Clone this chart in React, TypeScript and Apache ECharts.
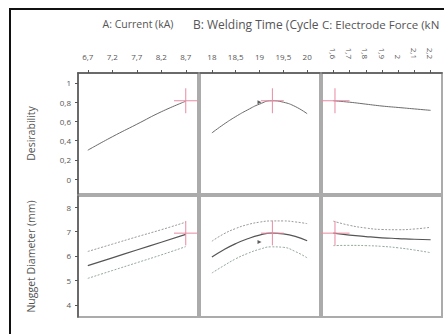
import React, { useEffect, useRef } from 'react';
import * as echarts from 'echarts';

// Factor A: Current (kA)
const currentX = [6.7, 7.2, 7.7, 8.2, 8.7];
const currentDesirability = [0.3, 0.44, 0.57, 0.7, 0.81];
const currentNugget = [5.6, 5.92, 6.24, 6.56, 6.88];
const currentNuggetUpper = [6.18, 6.48, 6.78, 7.07, 7.38];
const currentNuggetLower = [5.08, 5.4, 5.72, 6.04, 6.38];

// Factor B: Welding Time (Cycles)
const timeX = [18, 18.25, 18.5, 18.75, 19, 19.25, 19.5, 19.75, 20];
const timeDesirability = [0.48, 0.57, 0.65, 0.72, 0.78, 0.815, 0.8, 0.755, 0.68];
const timeNugget = [5.95, 6.25, 6.5, 6.7, 6.85, 6.93, 6.9, 6.8, 6.62];
const timeNuggetUpper = [6.6, 6.9, 7.12, 7.28, 7.38, 7.43, 7.43, 7.39, 7.32];
const timeNuggetLower = [5.3, 5.6, 5.88, 6.1, 6.27, 6.37, 6.35, 6.18, 5.92];

// Factor C: Electrode Force (kN)
const forceX = [1.6, 1.7, 1.8, 1.9, 2.0, 2.1, 2.2];
const forceDesirability = [0.815, 0.8, 0.78, 0.76, 0.745, 0.73, 0.715];
const forceNugget = [6.93, 6.85, 6.79, 6.74, 6.71, 6.68, 6.66];
const forceNuggetUpper = [7.42, 7.25, 7.14, 7.08, 7.07, 7.1, 7.17];
const forceNuggetLower = [6.42, 6.43, 6.42, 6.39, 6.33, 6.24, 6.13];

// Current settings and predictions
const factorSettings = [8.7, 19.27, 1.61];
const predictedDesirability = 0.815;
const predictedNugget = 6.93;

// Small markers seen in the Welding Time panels
const timeMarkerX = 19.0;
const timeMarkerDesirability = 0.8;
const timeMarkerNugget = 6.57;

// Tick labels
const currentTicks = [6.7, 7.2, 7.7, 8.2, 8.7];
const timeTicks = [18, 18.5, 19, 19.5, 20];
const forceTicks = [1.6, 1.7, 1.8, 1.9, 2, 2.1, 2.2];
const desirabilityTicks = [0, 0.2, 0.4, 0.6, 0.8, 1];
const nuggetTicks = [4, 5, 6, 7, 8];

const factorTitles = ['A: Current (kA)', 'B: Welding Time (Cycles)', 'C: Electrode Force (kN)'];
const responseNames = ['Desirability', 'Nugget Diameter (mm)'];

const FONT = '"Open Sans", "Noto Sans", sans-serif';
const TXT = '#555';
const fmt = (v: number) => String(v).replace('.', ',');

export default function App() {
  const ref = useRef<HTMLDivElement>(null);
  useEffect(() => {
    if (!ref.current) return;
    const chart = echarts.init(ref.current, undefined, { renderer: 'svg' });

    const colLeft = [78, 200, 322];
    const rowTop = [73, 196];
    const W = 120;
    const H = 121;
    const xRanges = [
      [6.5, 8.95],
      [17.75, 20.27],
      [1.53, 2.27],
    ];
    const yRanges = [
      [-0.156, 1.104],
      [3.5, 8.45],
    ];
    const xTicks = [currentTicks, timeTicks, forceTicks];
    const yTicks = [desirabilityTicks, nuggetTicks];

    const grids: any[] = [];
    const xAxes: any[] = [];
    const yAxes: any[] = [];
    for (let r = 0; r < 2; r++) {
      for (let c = 0; c < 3; c++) {
        const g = r * 3 + c;
        grids.push({
          left: colLeft[c],
          top: rowTop[r],
          width: W,
          height: H,
          show: true,
          borderColor: '#ababab',
          borderWidth: 2,
          backgroundColor: '#fff',
        });
        xAxes.push({
          type: 'value',
          gridIndex: g,
          position: 'top',
          min: xRanges[c][0],
          max: xRanges[c][1],
          axisLine: { show: r === 0, onZero: false, lineStyle: { color: '#555', width: 1.5 } },
          axisTick: { show: r === 0, customValues: xTicks[c], length: 3, lineStyle: { color: '#555' } },
          axisLabel: {
            show: r === 0,
            customValues: xTicks[c],
            formatter: fmt,
            fontSize: 8,
            color: TXT,
            fontFamily: FONT,
            margin: c === 2 ? 14 : 13,
            rotate: c === 2 ? 90 : 0,
          },
          splitLine: { show: false },
        });
        yAxes.push({
          type: 'value',
          gridIndex: g,
          min: yRanges[r][0],
          max: yRanges[r][1],
          name: c === 0 ? responseNames[r] : '',
          nameLocation: 'middle',
          nameGap: 42,
          nameTextStyle: { fontSize: 10.5, color: TXT, fontFamily: FONT },
          axisLine: { show: c === 0, onZero: false, lineStyle: { color: '#555', width: 1.5 } },
          axisTick: { show: c === 0, customValues: yTicks[r], length: 3, lineStyle: { color: '#555' } },
          axisLabel: {
            show: c === 0,
            customValues: yTicks[r],
            formatter: fmt,
            fontSize: 8,
            color: TXT,
            fontFamily: FONT,
            margin: 7,
          },
          splitLine: { show: false },
        });
      }
    }

    const series: any[] = [];
    const addLine = (g: number, xs: number[], ys: number[], color: string, width: number, type: any = 'solid') => {
      series.push({
        type: 'line',
        xAxisIndex: g,
        yAxisIndex: g,
        data: xs.map((x, i) => [x, ys[i]]),
        symbol: 'none',
        smooth: true,
        clip: true,
        silent: true,
        lineStyle: { color, width, type },
      });
    };
    const addSeg = (g: number, pts: number[][]) => {
      series.push({
        type: 'line',
        xAxisIndex: g,
        yAxisIndex: g,
        data: pts,
        symbol: 'none',
        clip: true,
        silent: true,
        lineStyle: { color: '#e88aa0', width: 1 },
      });
    };

    const xsAll = [currentX, timeX, forceX];
    const desAll = [currentDesirability, timeDesirability, forceDesirability];
    const nugAll = [currentNugget, timeNugget, forceNugget];
    const upAll = [currentNuggetUpper, timeNuggetUpper, forceNuggetUpper];
    const loAll = [currentNuggetLower, timeNuggetLower, forceNuggetLower];
    const dxs = [0.24, 0.24, 0.09];

    for (let c = 0; c < 3; c++) {
      addLine(c, xsAll[c], desAll[c], '#6a6a6a', 1);
      addLine(3 + c, xsAll[c], upAll[c], '#9a9a9a', 1, [2, 1.5]);
      addLine(3 + c, xsAll[c], loAll[c], '#95a89b', 1, [2, 1.5]);
      addLine(3 + c, xsAll[c], nugAll[c], '#555', 1.2);
      const s = factorSettings[c];
      addSeg(c, [[s - dxs[c], predictedDesirability], [s + dxs[c], predictedDesirability]]);
      addSeg(c, [[s, predictedDesirability - 0.13], [s, predictedDesirability + 0.13]]);
      addSeg(3 + c, [[s - dxs[c], predictedNugget], [s + dxs[c], predictedNugget]]);
      addSeg(3 + c, [[s, predictedNugget - 0.5], [s, predictedNugget + 0.5]]);
    }
    series.push({
      type: 'scatter',
      xAxisIndex: 1,
      yAxisIndex: 1,
      data: [[timeMarkerX, timeMarkerDesirability]],
      symbol: 'triangle',
      symbolRotate: -90,
      symbolSize: 4,
      itemStyle: { color: '#333' },
      silent: true,
    });
    series.push({
      type: 'scatter',
      xAxisIndex: 4,
      yAxisIndex: 4,
      data: [[timeMarkerX, timeMarkerNugget]],
      symbol: 'triangle',
      symbolRotate: -90,
      symbolSize: 4,
      itemStyle: { color: '#333' },
      silent: true,
    });

    const graphic: any[] = [
      {
        type: 'rect',
        shape: { x: 10, y: 9, width: 600, height: 500 },
        style: { fill: 'none', stroke: '#111', lineWidth: 2 },
        silent: true,
      },
      {
        type: 'text',
        x: 138,
        y: 24,
        style: { text: factorTitles[0], fill: TXT, fontSize: 10.5, fontFamily: FONT, align: 'center', verticalAlign: 'middle' },
      },
      {
        type: 'text',
        x: 193,
        y: 24,
        style: {
          text: factorTitles[1],
          fill: TXT,
          fontSize: 12,
          fontFamily: FONT,
          align: 'left',
          verticalAlign: 'middle',
          width: 128,
          overflow: 'truncate',
          ellipsis: '',
        },
      },
      {
        type: 'text',
        x: 322,
        y: 24,
        style: {
          text: factorTitles[2],
          fill: TXT,
          fontSize: 11.5,
          fontFamily: FONT,
          align: 'left',
          verticalAlign: 'middle',
          width: 121,
          overflow: 'truncate',
          ellipsis: '',
        },
      },
    ];

    chart.setOption({
      animation: false,
      backgroundColor: '#fff',
      grid: grids,
      xAxis: xAxes,
      yAxis: yAxes,
      series,
      graphic,
    });
    return () => chart.dispose();
  }, []);
  return (
    <div style={{ position: 'fixed', left: 0, top: 0, width: 444, height: 334, background: '#fff' }}>
      <div ref={ref} style={{ width: 444, height: 334 }} />
    </div>
  );
}
